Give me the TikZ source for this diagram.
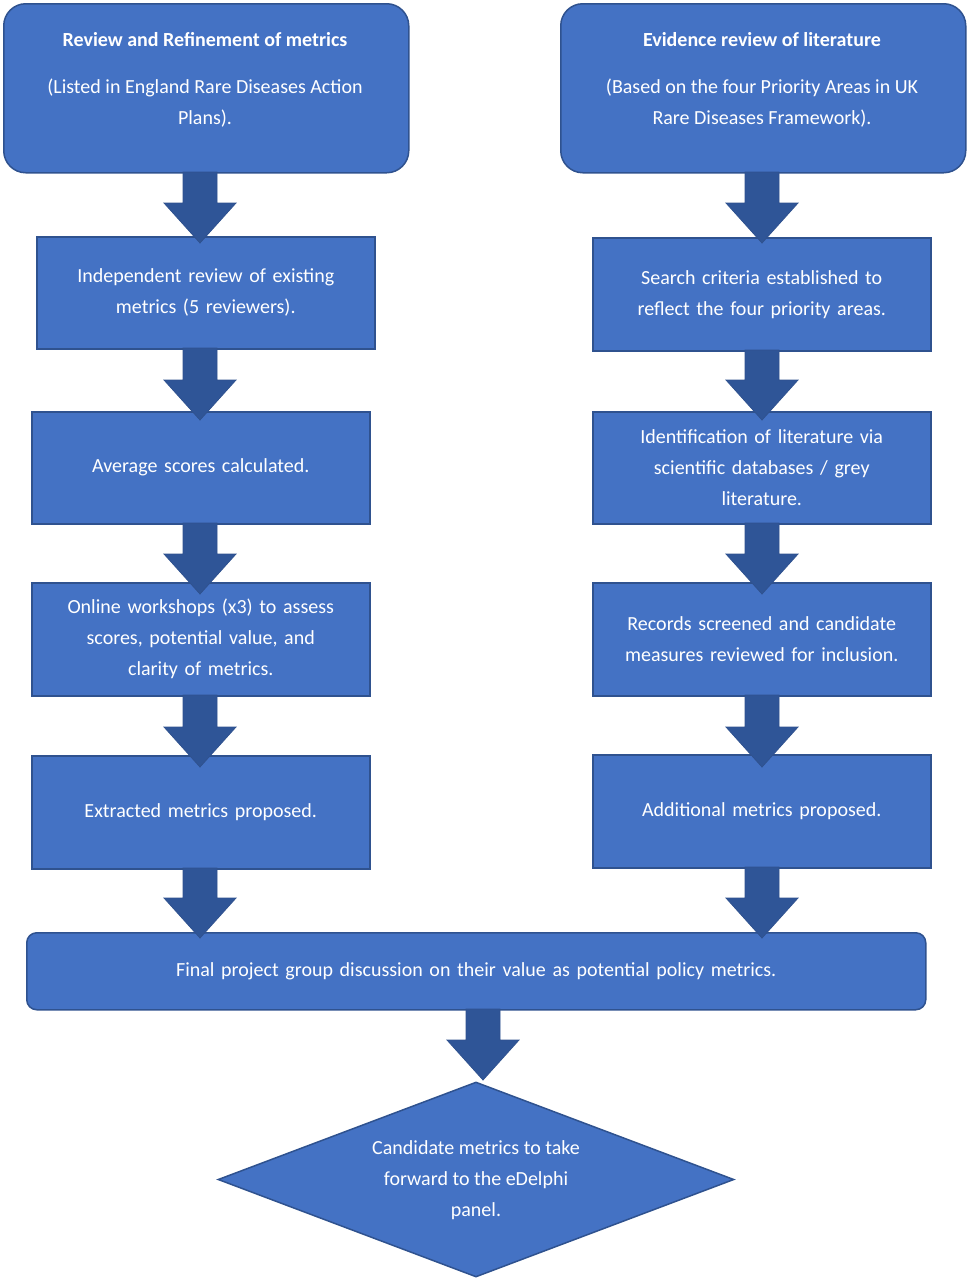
\documentclass[tikz,border=0pt]{standalone}
\usepackage{fontspec}
\setmainfont{Carlito}
\usetikzlibrary{shapes.geometric}
\definecolor{boxfill}{HTML}{4472C4}
\definecolor{boxline}{HTML}{2F528F}
\definecolor{arrowc}{HTML}{2F5597}
\tikzset{
 stepbox/.style={draw=boxline,line width=1.5pt,fill=boxfill,text=white,align=center,
   font=\fontsize{20}{31}\selectfont,inner sep=4pt},
 blockarrow/.style={fill=arrowc,draw=boxline,line width=0.8pt}
}
\newcommand{\barrow}[3]{% x, ystart, ytip
 \draw[blockarrow] (#1-17,#2) -- (#1+17,#2) -- (#1+17,#3-40) -- (#1+36,#3-40) -- (#1,#3) -- (#1-36,#3-40) -- (#1-17,#3-40) -- cycle;}
\begin{document}
\begin{tikzpicture}[x=1pt,y=-1pt]
\useasboundingbox (0,0) rectangle (968,1280);
\node[stepbox,rounded corners=22pt,minimum width=405,minimum height=169,anchor=north west,text width=390] (tl) at (3,3) {};
\node[text=white,font=\fontsize{20}{31}\selectfont\bfseries] (tlt) at (205,40) {Review and Refinement of metrics};
\node[text=white,font=\fontsize{20}{31}\selectfont,align=center] (tls) at (205,103) {(Listed in England Rare Diseases Action\\Plans).};
\node[stepbox,rounded corners=22pt,minimum width=405,minimum height=169,anchor=north west] (tr) at (560,3) {};
\node[text=white,font=\fontsize{20}{31}\selectfont\bfseries] (trt) at (762,40) {Evidence review of literature};
\node[text=white,font=\fontsize{20}{31}\selectfont,align=center] (trs) at (762,103) {(Based on the four Priority Areas in UK\\Rare Diseases Framework).};

\node[stepbox,minimum width=338,minimum height=112,anchor=north west,text width=320] (l1) at (36,236) {Independent review of existing\\metrics (5 reviewers).};
\node[stepbox,minimum width=338,minimum height=112,anchor=north west,text width=320] (l2) at (31,411) {Average scores calculated.};
\node[stepbox,minimum width=338,minimum height=113,anchor=north west,text width=320] (l3) at (31,582) {Online workshops (x3) to assess\\scores, potential value, and\\clarity of metrics.};
\node[stepbox,minimum width=338,minimum height=113,anchor=north west,text width=320] (l4) at (31,755) {Extracted metrics proposed.};

\node[stepbox,minimum width=338,minimum height=113,anchor=north west,text width=320] (r1) at (592,237) {Search criteria established to\\reflect the four priority areas.};
\node[stepbox,minimum width=338,minimum height=112,anchor=north west,text width=320] (r2) at (592,411) {Identification of literature via\\scientific databases / grey\\literature.};
\node[stepbox,minimum width=338,minimum height=113,anchor=north west,text width=320] (r3) at (592,582) {Records screened and candidate\\measures reviewed for inclusion.};
\node[stepbox,minimum width=338,minimum height=113,anchor=north west,text width=320] (r4) at (592,754) {Additional metrics proposed.};

\node[stepbox,rounded corners=10pt,minimum width=899,minimum height=77,anchor=north west,text width=880] (fin) at (26,932) {Final project group discussion on their value as potential policy metrics.};
\node[stepbox,diamond,aspect=2.65,minimum width=516,minimum height=195,inner sep=0pt] (dia) at (476,1179.5) {};
\node[text=white,font=\fontsize{20}{31}\selectfont,align=center] (diat) at (476,1180) {Candidate metrics to take\\forward to the eDelphi\\panel.};

\barrow{200}{172}{243}
\barrow{200}{348}{420}
\barrow{200}{523}{594}
\barrow{200}{695}{767}
\barrow{200}{868}{938}
\barrow{762}{172}{243}
\barrow{762}{350}{420}
\barrow{762}{523}{594}
\barrow{762}{695}{767}
\barrow{762}{867}{938}
\barrow{483}{1009}{1080}
\end{tikzpicture}
\end{document}
